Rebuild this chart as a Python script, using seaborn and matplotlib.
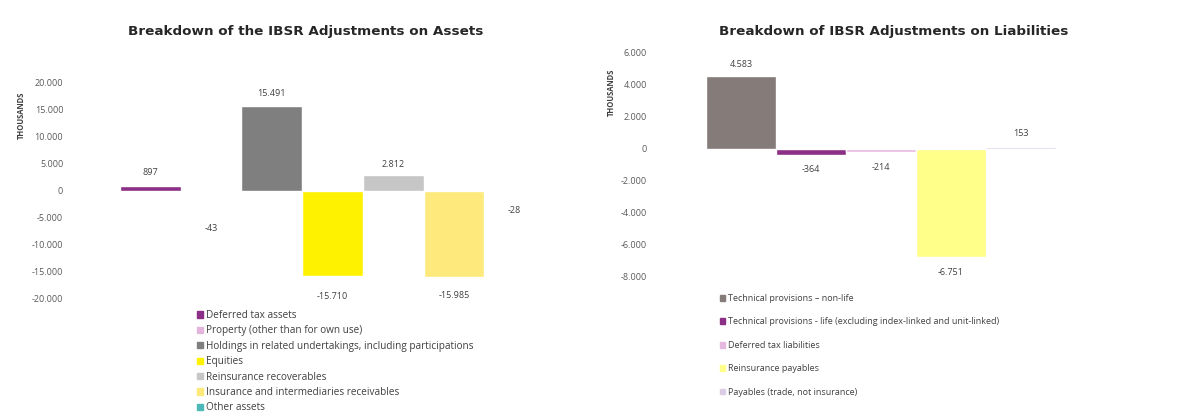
import matplotlib
matplotlib.use("Agg")
import matplotlib.pyplot as plt
import seaborn as sns
import pandas as pd

# assets
asset_cats = ["Deferred tax assets", "Property (other than for own use)",
              "Holdings in related undertakings, including participations",
              "Equities", "Reinsurance recoverables",
              "Insurance and intermediaries receivables", "Other assets"]
asset_vals = [897, -43, 15491, -15710, 2812, -15985, -28]
asset_colors = ["#8c2f86", "#e3b4dc", "#7f7f7f", "#fff200", "#c6c6c6", "#fde97c", "#4cb8b8"]
asset_ticks = [-20000, -15000, -10000, -5000, 0, 5000, 10000, 15000, 20000]

# liabilities
liab_cats = ["Technical provisions \u2013 non-life",
             "Technical provisions - life (excluding index-linked and unit-linked)",
             "Deferred tax liabilities", "Reinsurance payables",
             "Payables (trade, not insurance)"]
liab_vals = [4583, -364, -214, -6751, 153]
liab_colors = ["#857b79", "#8c2f86", "#e6b7df", "#ffff8a", "#dccde6"]
liab_ticks = [-8000, -6000, -4000, -2000, 0, 2000, 4000, 6000]

# label offsets in px (outside end, like Excel)
asset_pad = [13, 38, 13, 21, 11, 18, 20]
liab_pad = [11, 15, 15, 15, 13]

sns.set_theme(style="white")
plt.rcParams['font.family'] = ['Open Sans', 'DejaVu Sans']

W, H = 1198, 417
fig = plt.figure(figsize=(W / 100, H / 100), dpi=100)


def fmt(v):
    return f"{v:,}".replace(",", ".")


def draw(ax, cats, vals, colors, ticks, pads, title, title_x, ylab_x, ylab_y,
         leg_x, leg_y, spacing, leg_fs):
    df = pd.DataFrame({"cat": cats, "val": vals})
    sns.barplot(data=df, x="cat", y="val", hue="cat", palette=colors, width=1,
                dodge=False, legend=False, ax=ax, saturation=1)
    ax.set_ylim(ticks[0], ticks[-1])
    ax.set_yticks(ticks)
    ax.set_yticklabels([fmt(t) for t in ticks], fontsize=6.5, color="#595959")
    ax.tick_params(axis="y", length=0, pad=2)
    ax.set_xticks([])
    ax.set_xlabel("")
    ax.set_ylabel("")
    for s in ax.spines.values():
        s.set_visible(False)
    for i, v in enumerate(vals):
        off = pads[i] * 0.72 * (1 if v >= 0 else -1)
        ax.annotate(fmt(v), (i, v), xytext=(0, off), textcoords="offset points",
                    ha="center", va="center", fontsize=6.5, color="#404040")
    fig.text(title_x / W, 1 - 31 / H, title, ha="center", va="center",
             fontsize=9.7, fontweight="bold", color="#262626", family="DejaVu Sans")
    fig.text(ylab_x / W, 1 - ylab_y / H, "THOUSANDS", rotation=90, ha="center",
             va="center", fontsize=5.5, fontweight="bold", color="#404040")
    handles = [plt.Rectangle((0, 0), 1, 1, color=c) for c in colors]
    fig.legend(handles, cats, loc="upper left", bbox_to_anchor=(leg_x / W, 1 - leg_y / H),
               frameon=False, fontsize=leg_fs, handlelength=0.6, handleheight=0.6,
               handletextpad=0.3, labelspacing=spacing, borderaxespad=0, borderpad=0,
               labelcolor="#404040")


# left axes: bars 120-545 px, y 82-299 px
u = 425 / 7
axL = fig.add_axes([66 / W, 1 - 299 / H, (560 - 66) / W, 217 / H])
draw(axL, asset_cats, asset_vals, asset_colors, asset_ticks, asset_pad,
     "Breakdown of the IBSR Adjustments on Assets", 306, 21, 115, 197, 310, 0.44, 7.2)
axL.set_xlim(-0.5 - (120 - 66) / u, 6.5 + (560 - 545) / u)

# right axes: bars 706-1056 px, y 53-277 px
u2 = 350 / 5
axR = fig.add_axes([650 / W, 1 - 277 / H, (1075 - 650) / W, 224 / H])
draw(axR, liab_cats, liab_vals, liab_colors, liab_ticks, liab_pad,
     "Breakdown of IBSR Adjustments on Liabilities", 894, 611, 92, 720, 294, 1.6, 6.5)
axR.set_xlim(-0.5 - (706 - 650) / u2, 4.5 + (1075 - 1056) / u2)

fig.savefig("out.png", dpi=100, facecolor="white")
